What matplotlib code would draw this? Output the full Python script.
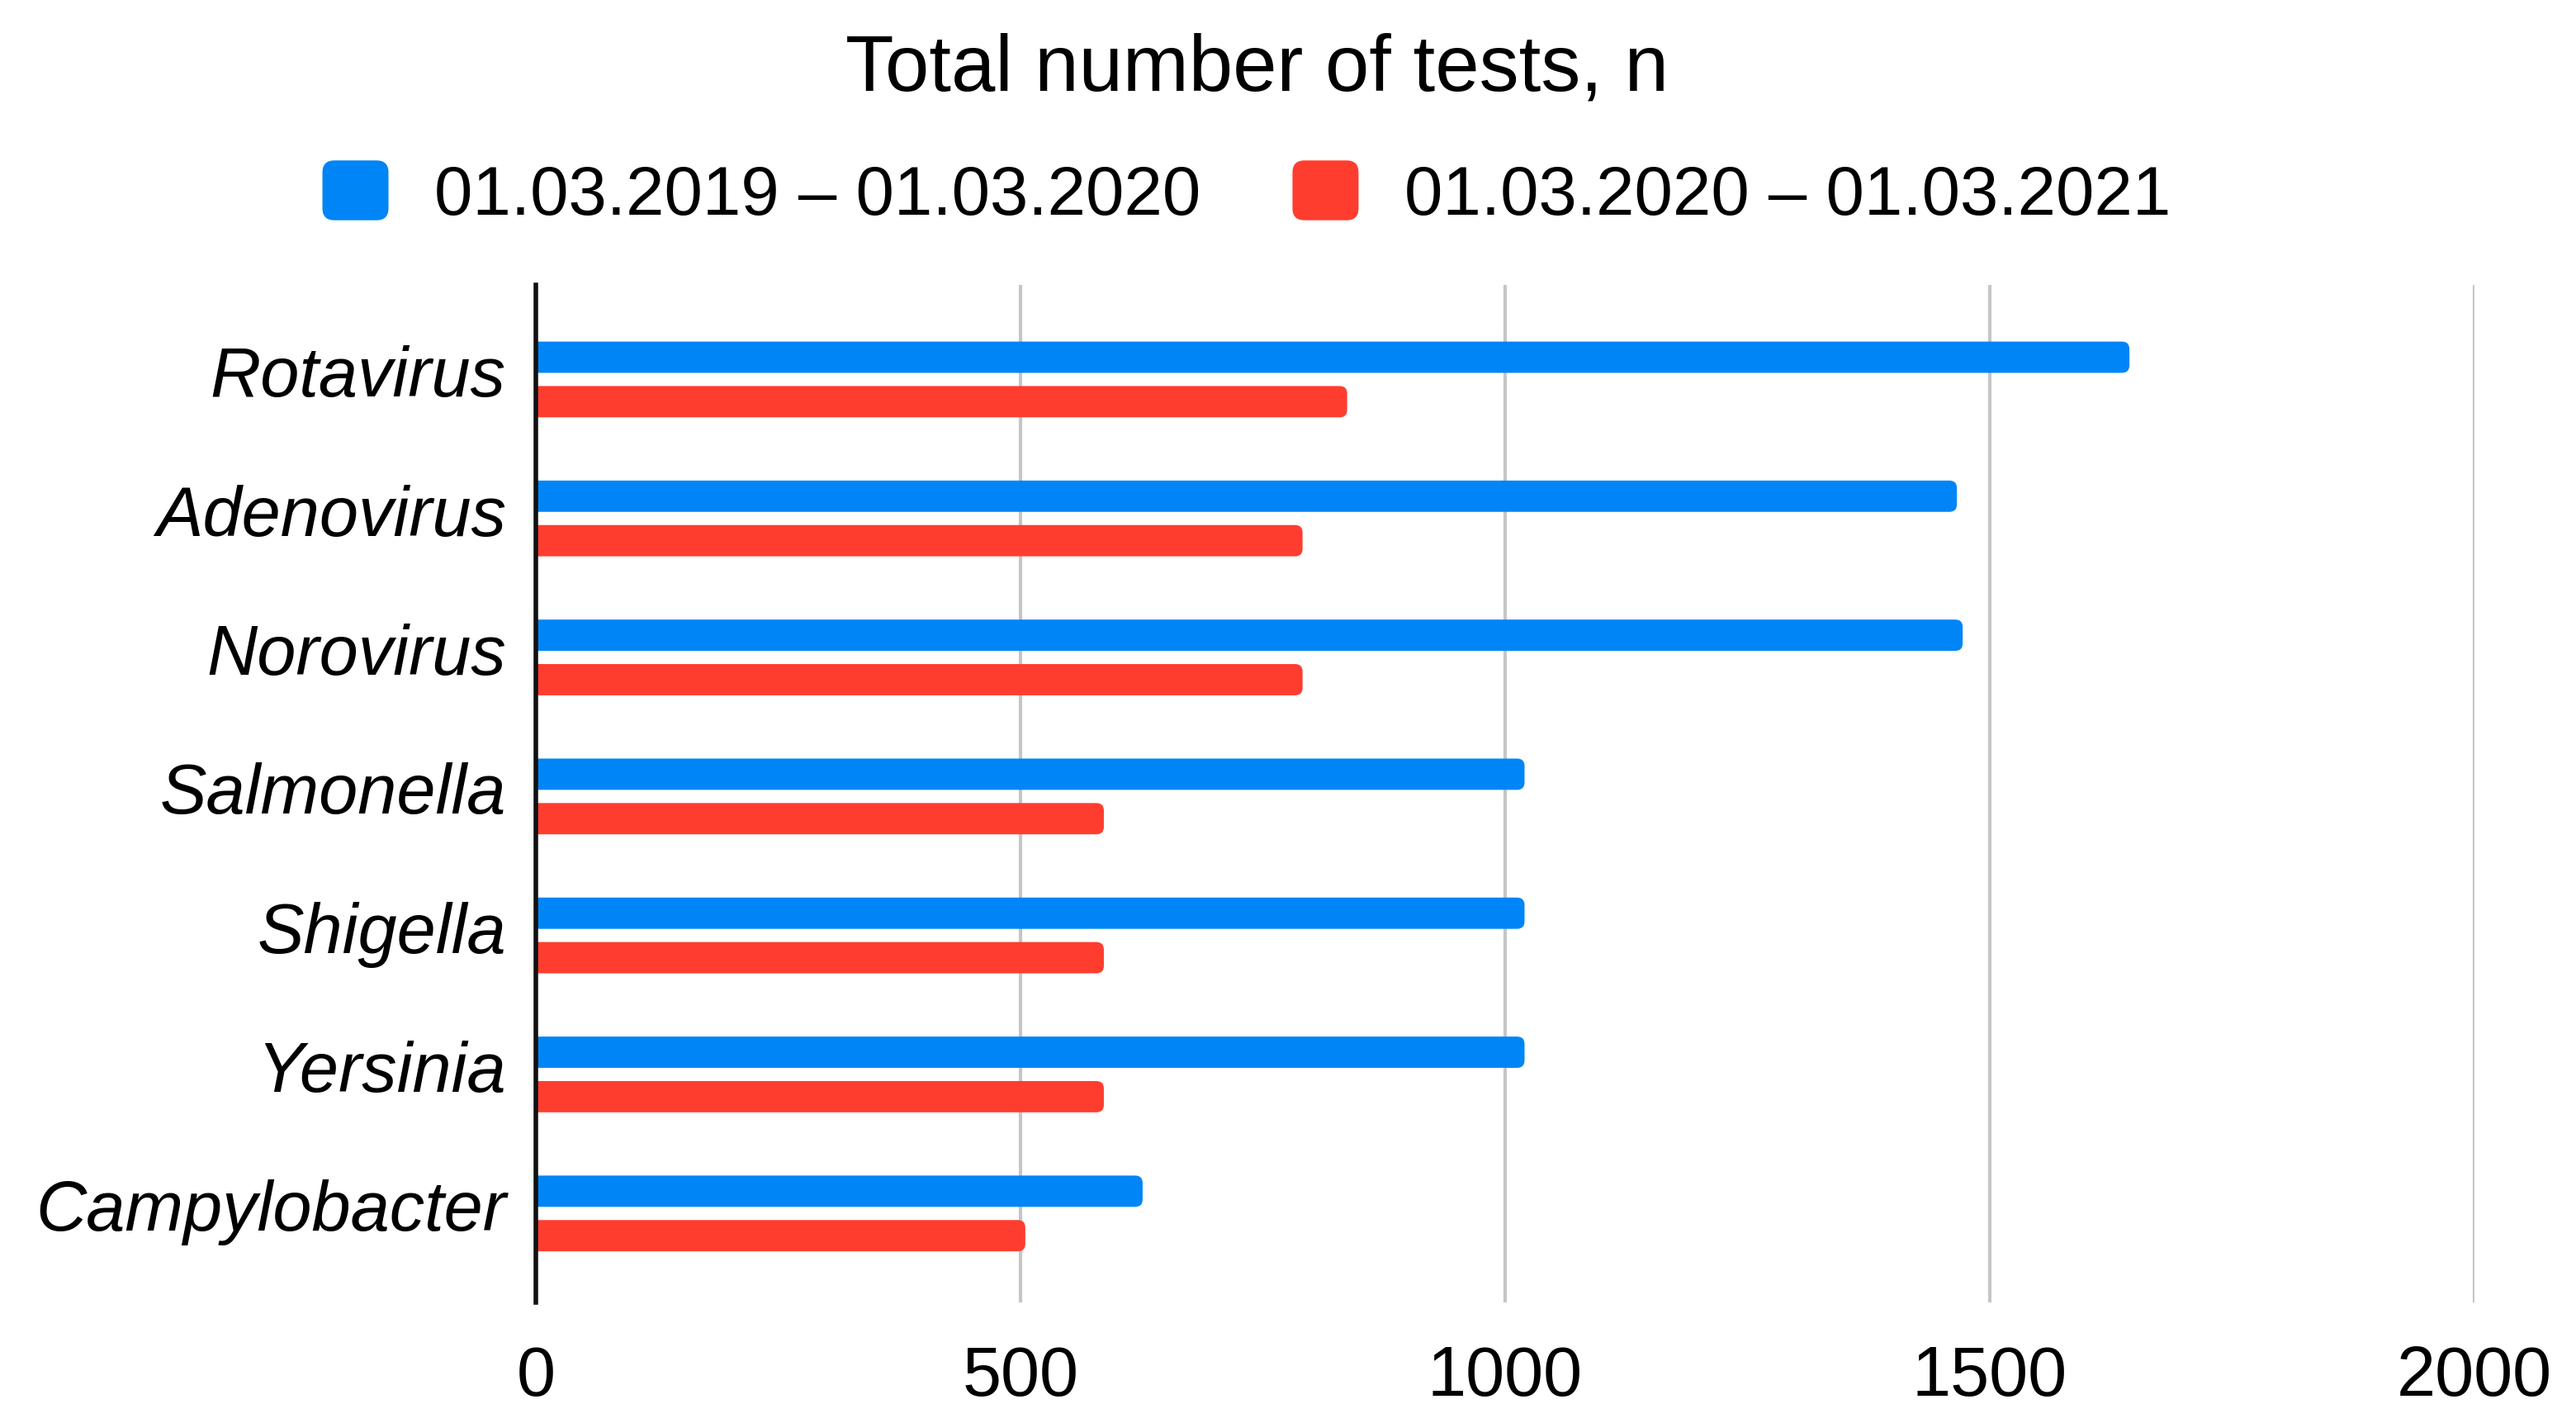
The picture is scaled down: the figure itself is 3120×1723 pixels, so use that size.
import matplotlib
matplotlib.use('Agg')
import matplotlib.pyplot as plt
import numpy as np
from matplotlib.patches import FancyBboxPatch, Patch
from matplotlib.legend_handler import HandlerPatch
from matplotlib.transforms import ScaledTranslation

# data
categories = ['Rotavirus', 'Adenovirus', 'Norovirus', 'Salmonella',
              'Shigella', 'Yersinia', 'Campylobacter']
tests_2019_2020 = [1644, 1466, 1472, 1020, 1020, 1020, 626]
tests_2020_2021 = [837, 791, 791, 586, 586, 586, 505]
series_labels = ['01.03.2019 – 01.03.2020', '01.03.2020 – 01.03.2021']
xticks = [0, 500, 1000, 1500, 2000]

BLUE = '#0085F6'
RED = '#FF3D2F'

plt.rcParams['font.family'] = ['Liberation Sans', 'DejaVu Sans']

fig = plt.figure(figsize=(15.6, 8.62), dpi=200)
ax = fig.add_axes([0.208, 0.0847, 0.7526, 0.7146])

y = np.arange(len(categories))
h = 0.225
off = 0.16
bars_a = ax.barh(y - off, tests_2019_2020, height=h, color=BLUE)
bars_b = ax.barh(y + off, tests_2020_2021, height=h, color=RED)

ax.set_xlim(0, 2000)
ax.set_ylim(len(categories) - 1 + 0.64, -0.68)

# swap the flat bars for rounded ones (left end pushed under the axis and clipped)
fig.canvas.draw()
bb = ax.get_window_extent()
x_per_px = 2000 / bb.width
y_per_px = (len(categories) - 1 + 0.64 + 0.68) / bb.height
aspect = y_per_px / x_per_px
r_px = 9
for bars in (bars_a, bars_b):
    for b in bars:
        x0, y0 = b.get_x(), b.get_y()
        w, hh = b.get_width(), b.get_height()
        ext = 30
        p = FancyBboxPatch((x0 - ext, y0), w + ext, hh,
                           boxstyle=f"round,pad=0,rounding_size={r_px * x_per_px}",
                           mutation_aspect=aspect,
                           facecolor=b.get_facecolor(), edgecolor='none',
                           clip_on=True, zorder=2)
        ax.add_patch(p)
        b.set_visible(False)

ax.set_yticks(y)
ax.set_yticklabels(categories, fontsize=30.5, style='italic')
ax.set_xticks(xticks)
ax.set_xticklabels([str(t) for t in xticks], fontsize=30.5)
ax.tick_params(axis='both', length=0)
ax.tick_params(axis='x', pad=18)
ax.tick_params(axis='y', pad=13)
# labels sit a touch above the category centre in the reference
shift = ScaledTranslation(0, 4 / 72, fig.dpi_scale_trans)
for lbl in ax.get_yticklabels():
    lbl.set_transform(lbl.get_transform() + shift)

ax.grid(axis='x', color='#c6c6c6', linewidth=1.5, zorder=0)
ax.set_axisbelow(True)
for s in ['top', 'right', 'bottom']:
    ax.spines[s].set_visible(False)
ax.spines['left'].set_linewidth(2)
ax.spines['left'].set_color('#111111')
ax.spines['left'].set_zorder(3)

fig.text(0.488, 0.951, 'Total number of tests, n', fontsize=34.5,
         ha='center', va='center')


class RoundHandler(HandlerPatch):
    def create_artists(self, legend, orig_handle, xdescent, ydescent,
                       width, height, fontsize, trans):
        p = FancyBboxPatch((-xdescent, -ydescent), width, height,
                           boxstyle=f"round,pad=0,rounding_size={width * 0.18}",
                           facecolor=orig_handle.get_facecolor(),
                           edgecolor='none', transform=trans)
        return [p]


handles = [Patch(facecolor=BLUE), Patch(facecolor=RED)]
fig.legend(handles, series_labels, loc='center', bbox_to_anchor=(0.484, 0.863),
           ncol=2, frameon=False, fontsize=30, handlelength=0.96,
           handleheight=0.96, handletextpad=0.67, columnspacing=1.33,
           handler_map={Patch: RoundHandler()})

fig.savefig('out.png', dpi=200, facecolor='white')
